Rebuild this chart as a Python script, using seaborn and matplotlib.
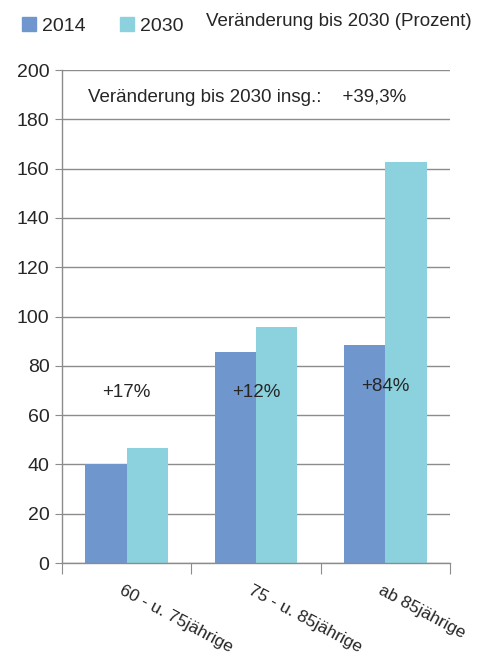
import matplotlib
matplotlib.use('Agg')
import matplotlib.pyplot as plt
import seaborn as sns
import pandas as pd
from matplotlib.patches import Patch

categories = ['60 - u. 75jährige', '75 - u. 85jährige', 'ab 85jährige']
values_2014 = [40, 85.5, 88.5]
values_2030 = [46.5, 95.7, 162.5]
change_labels = ['+17%', '+12%', '+84%']
change_y = [69, 69, 71.5]
total_label = 'Veränderung bis 2030 insg.:    +39,3%'

c2014 = '#6F97CD'
c2030 = '#8CD2DE'

df = pd.DataFrame({
    'Gruppe': categories * 2,
    'Jahr': ['2014'] * 3 + ['2030'] * 3,
    'Wert': values_2014 + values_2030,
})

sns.set_style('white')
plt.rcParams['font.family'] = ['Liberation Sans Narrow', 'Liberation Sans', 'DejaVu Sans']

fig = plt.figure(figsize=(4.83, 6.59), dpi=100)
ax = fig.add_axes([62 / 483, 96 / 659, 388 / 483, 493 / 659])

sns.barplot(data=df, x='Gruppe', y='Wert', hue='Jahr', palette=[c2014, c2030],
            width=0.64, saturation=1, linewidth=0, ax=ax, legend=False)

ax.set_ylim(0, 200)
ax.set_xlim(-0.5, 2.5)
ax.set_yticks(range(0, 201, 20))
ax.yaxis.grid(True, color='#8c8c8c', linewidth=1)
ax.set_axisbelow(True)
for s in ['top', 'right']:
    ax.spines[s].set_visible(False)
for s in ['left', 'bottom']:
    ax.spines[s].set_color('#8c8c8c')
    ax.spines[s].set_linewidth(1)
ax.tick_params(axis='y', labelsize=14, length=5, color='#8c8c8c', direction='out', left=True, pad=4)
ax.set_xlabel('')
ax.set_ylabel('')

# category boundary ticks
ax.set_xticks([-0.5, 0.5, 1.5, 2.5])
ax.set_xticklabels([])
ax.tick_params(axis='x', length=8, color='#8c8c8c', direction='out', bottom=True)
for i, lab in enumerate(categories):
    ax.text(i - 0.02, -8, lab, rotation=-28, ha='left', va='top',
            rotation_mode='anchor', fontsize=12.5)

for i, (lab, yv) in enumerate(zip(change_labels, change_y)):
    ax.text(i, yv, lab, ha='center', va='center', fontsize=13.5)

ax.text(0.93, 189, total_label, ha='center', va='center', fontsize=13.5)

handles = [Patch(color=c2014, label='2014'), Patch(color=c2030, label='2030')]
fig.legend(handles=handles, loc='upper left', bbox_to_anchor=(0.01, 1.0), ncol=2,
           frameon=False, fontsize=14, handlelength=0.7, handleheight=0.7,
           handletextpad=0.3, columnspacing=1.8)
fig.text(472 / 483, 1 - 22 / 659, 'Veränderung bis 2030 (Prozent)', ha='right',
         va='center', fontsize=13.5)

fig.savefig('out.png', dpi=100)
